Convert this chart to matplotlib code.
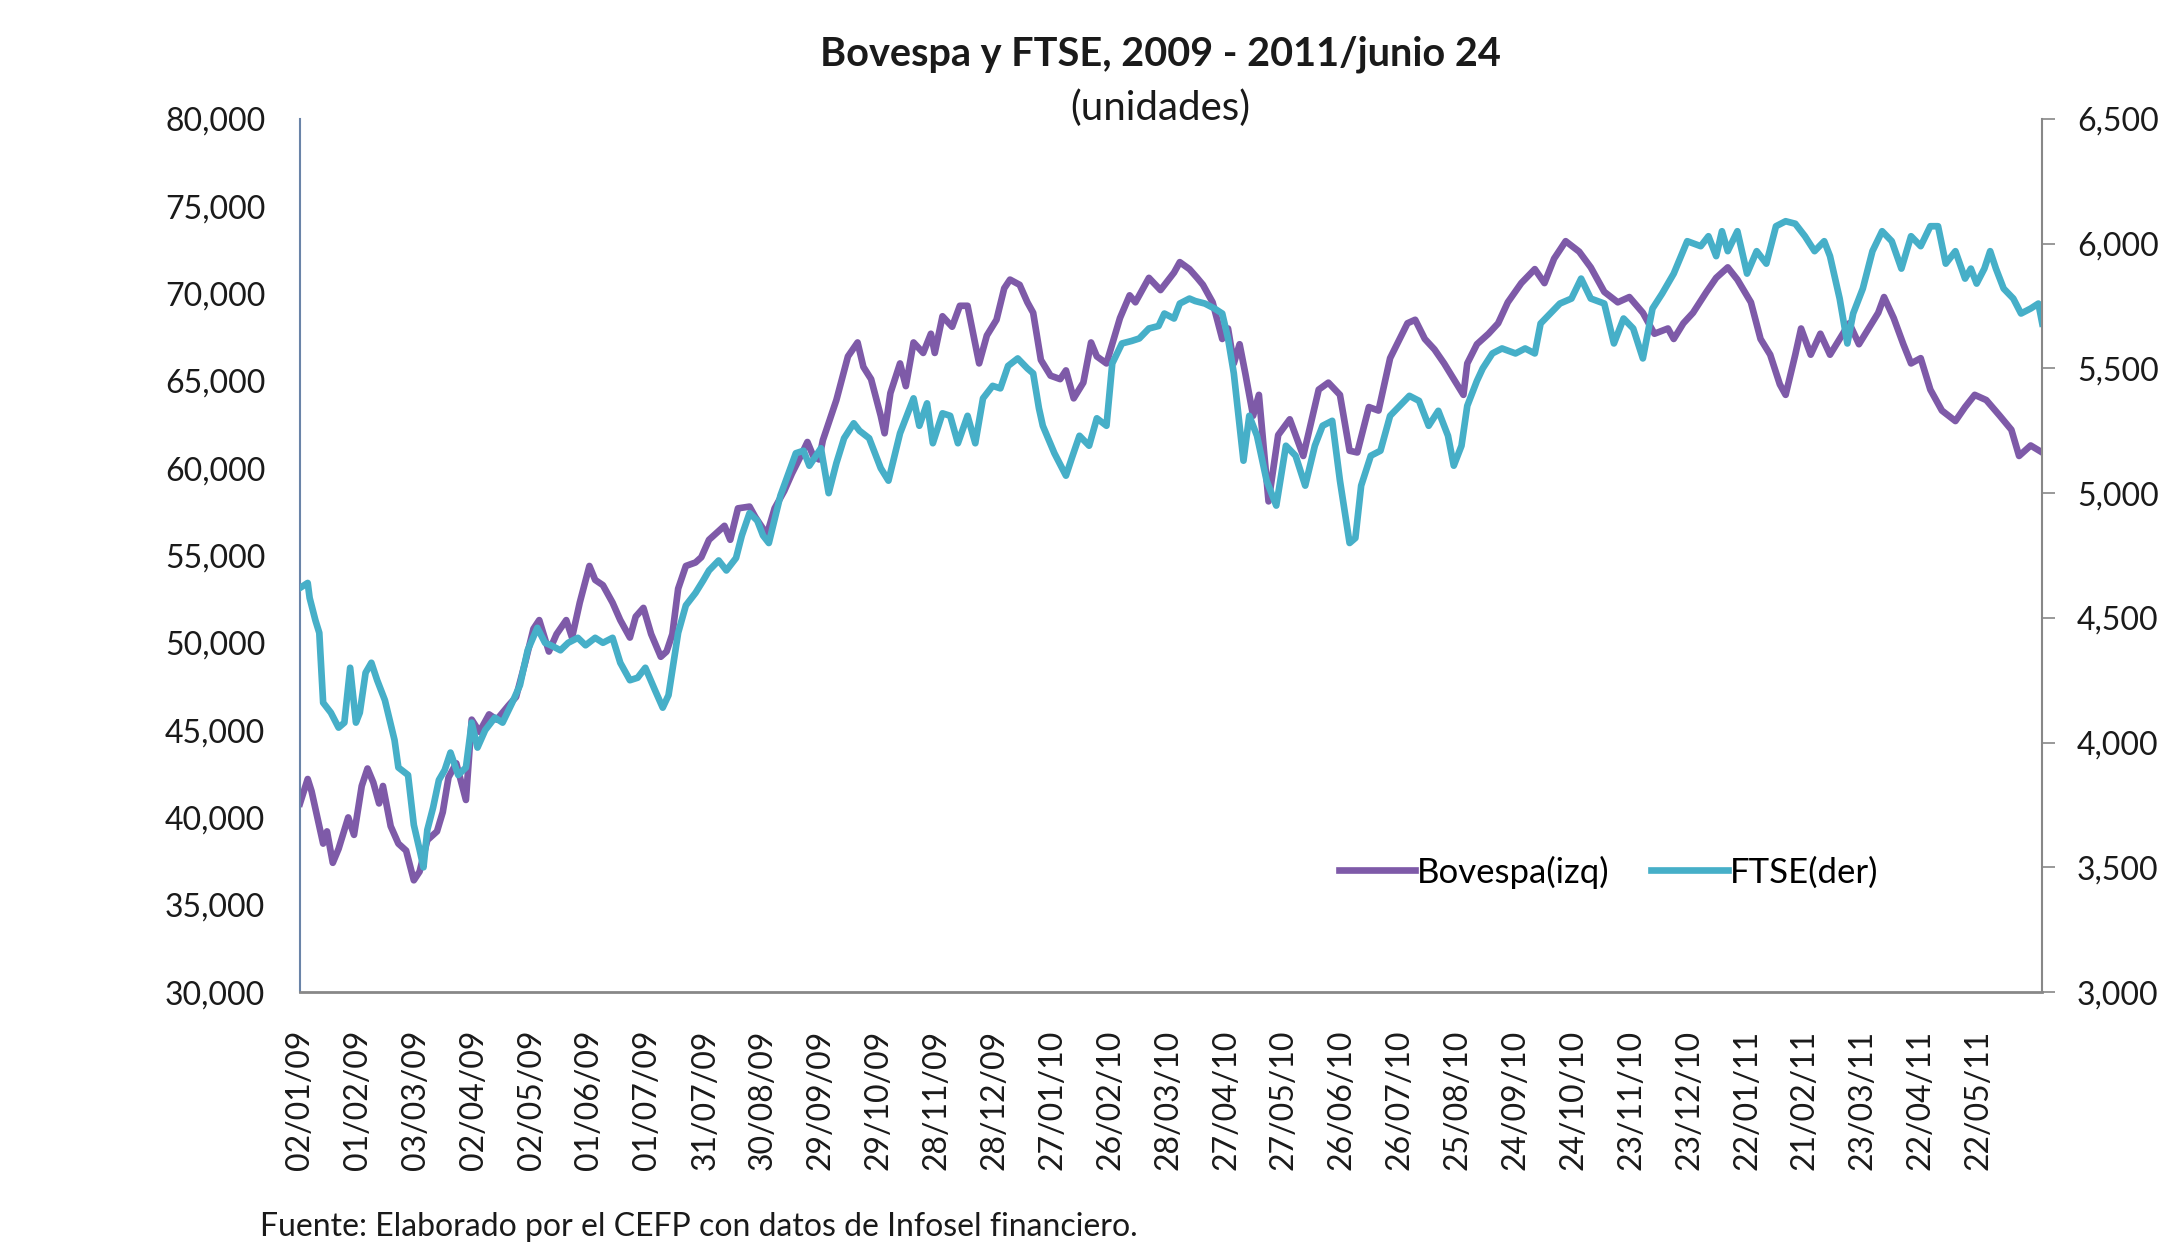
import numpy as np
import pandas as pd
import matplotlib
matplotlib.use('Agg')
import matplotlib.pyplot as plt
from matplotlib.ticker import FuncFormatter

plt.rcParams['font.family'] = ['Lato', 'DejaVu Sans']

start = pd.Timestamp('2009-01-02')
end = pd.Timestamp('2011-06-24')

tick_labels = ['02/01/09', '01/02/09', '03/03/09', '02/04/09', '02/05/09', '01/06/09',
               '01/07/09', '31/07/09', '30/08/09', '29/09/09', '29/10/09', '28/11/09',
               '28/12/09', '27/01/10', '26/02/10', '28/03/10', '27/04/10', '27/05/10',
               '26/06/10', '26/07/10', '25/08/10', '24/09/10', '24/10/10', '23/11/10',
               '23/12/10', '22/01/11', '21/02/11', '23/03/11', '22/04/11', '22/05/11']

# dias naturales desde el 02/01/2009
bov_day = [0, 4, 6, 10, 12, 14, 17, 20, 25, 28,
           32, 35, 38, 41, 43, 47, 51, 55, 59, 62,
           66, 71, 74, 77, 81, 86, 89, 93, 98, 102,
           108, 112, 117, 121, 124, 129, 133, 138, 141, 145,
           150, 153, 157, 162, 166, 171, 174, 178, 182, 187,
           190, 193, 196, 200, 205, 208, 212, 217, 220, 223,
           227, 233, 236, 242, 246, 251, 255, 260, 263, 266,
           269, 271, 278, 284, 289, 292, 296, 301, 303, 306,
           311, 314, 318, 323, 327, 329, 333, 338, 342, 346,
           352, 356, 361, 365, 368, 373, 377, 380, 384, 389,
           394, 397, 401, 406, 410, 413, 418, 425, 430, 433,
           440, 446, 453, 456, 461, 465, 468, 473, 478, 481,
           484, 487, 490, 494, 497, 502, 507, 513, 520, 528,
           533, 539, 544, 548, 554, 559, 565, 574, 578, 583,
           588, 593, 598, 603, 605, 610, 616, 621, 626, 633,
           640, 645, 650, 656, 663, 669, 676, 683, 689, 696,
           702, 709, 712, 717, 722, 729, 734, 740, 745, 752,
           757, 762, 767, 770, 775, 778, 783, 788, 793, 798,
           803, 808, 813, 818, 821, 826, 831, 835, 840, 845,
           851, 858, 863, 868, 874, 881, 887, 891, 897, 903]
bov_val = [40800, 42200, 41500, 39500, 38500, 39200, 37400, 38200, 40000, 39000,
           41800, 42800, 42000, 40800, 41800, 39500, 38500, 38100, 36400, 36900,
           38700, 39200, 40300, 42300, 43100, 41000, 45600, 44900, 45900, 45600,
           46400, 46900, 49000, 50800, 51300, 49500, 50500, 51300, 50300, 52300,
           54400, 53600, 53300, 52300, 51300, 50300, 51500, 52000, 50500, 49200,
           49500, 50500, 53100, 54400, 54600, 54900, 55900, 56400, 56700, 55900,
           57700, 57800, 57200, 56200, 57700, 58700, 59700, 60800, 61500, 60700,
           60500, 61600, 63900, 66400, 67200, 65800, 65100, 63000, 62000, 64300,
           66000, 64700, 67200, 66600, 67700, 66600, 68700, 68100, 69300, 69300,
           66000, 67600, 68500, 70300, 70800, 70500, 69500, 68900, 66200, 65300,
           65100, 65600, 64000, 64900, 67200, 66400, 66000, 68600, 69900, 69500,
           70900, 70200, 71200, 71800, 71400, 70900, 70500, 69500, 67400, 68000,
           66000, 67100, 65400, 63000, 64200, 58100, 61900, 62800, 60700, 64500,
           64900, 64200, 61000, 60900, 63500, 63300, 66300, 68300, 68500, 67400,
           66800, 66000, 65100, 64200, 66000, 67100, 67700, 68300, 69500, 70600,
           71400, 70600, 72000, 73000, 72400, 71500, 70100, 69500, 69800, 68900,
           67700, 68000, 67400, 68300, 68900, 70100, 70900, 71500, 70800, 69500,
           67400, 66500, 64800, 64200, 66500, 68000, 66500, 67700, 66500, 67400,
           68300, 67100, 68000, 68900, 69800, 68600, 67100, 66000, 66300, 64500,
           63300, 62700, 63500, 64200, 63900, 63000, 62200, 60700, 61300, 60900]

ftse_day = [0, 4, 5, 8, 10, 12, 16, 20, 23, 26,
            29, 31, 34, 37, 40, 44, 49, 51, 56, 59,
            62, 64, 66, 69, 72, 75, 78, 82, 86, 89,
            92, 96, 101, 105, 110, 114, 118, 123, 127, 130,
            135, 139, 144, 148, 153, 157, 162, 166, 171, 175,
            179, 184, 188, 191, 196, 200, 205, 209, 212, 217,
            221, 226, 229, 233, 237, 240, 243, 249, 257, 261,
            264, 270, 274, 278, 282, 287, 290, 295, 301, 305,
            311, 318, 321, 325, 328, 333, 337, 341, 346, 350,
            354, 359, 363, 367, 372, 377, 380, 383, 385, 391,
            397, 400, 404, 409, 413, 418, 421, 426, 431, 435,
            440, 445, 448, 453, 456, 461, 464, 469, 474, 478,
            481, 484, 489, 492, 496, 501, 506, 511, 516, 521,
            526, 530, 535, 539, 544, 547, 550, 555, 560, 565,
            570, 575, 580, 585, 590, 595, 598, 602, 605, 610,
            613, 618, 623, 630, 635, 640, 643, 648, 653, 659,
            664, 669, 676, 681, 686, 691, 696, 701, 706, 712,
            719, 726, 730, 734, 737, 740, 745, 750, 755, 760,
            765, 770, 775, 780, 785, 790, 793, 798, 802, 805,
            810, 815, 820, 825, 830, 835, 840, 845, 849, 853,
            858, 863, 866, 869, 873, 876, 879, 883, 888, 892,
            897, 901, 903]
ftse_val = [4620, 4640, 4580, 4490, 4440, 4160, 4120, 4060, 4080, 4300,
            4080, 4120, 4280, 4320, 4250, 4170, 4010, 3900, 3870, 3670,
            3570, 3500, 3650, 3740, 3850, 3890, 3960, 3870, 3900, 4080,
            3980, 4050, 4100, 4080, 4160, 4230, 4370, 4460, 4400, 4390,
            4370, 4400, 4420, 4390, 4420, 4400, 4420, 4320, 4250, 4260,
            4300, 4210, 4140, 4190, 4440, 4550, 4600, 4650, 4690, 4730,
            4690, 4740, 4830, 4920, 4890, 4830, 4800, 4990, 5160, 5170,
            5110, 5180, 5000, 5120, 5220, 5280, 5250, 5220, 5100, 5050,
            5240, 5380, 5270, 5360, 5200, 5320, 5310, 5200, 5310, 5200,
            5380, 5430, 5420, 5510, 5540, 5500, 5480, 5340, 5270, 5160,
            5070, 5140, 5230, 5190, 5300, 5270, 5520, 5600, 5610, 5620,
            5660, 5670, 5720, 5700, 5760, 5780, 5770, 5760, 5740, 5720,
            5620, 5480, 5130, 5310, 5230, 5050, 4950, 5190, 5150, 5030,
            5190, 5270, 5290, 5050, 4800, 4820, 5030, 5150, 5170, 5310,
            5350, 5390, 5370, 5270, 5330, 5230, 5110, 5190, 5350, 5450,
            5500, 5560, 5580, 5560, 5580, 5560, 5680, 5720, 5760, 5780,
            5860, 5780, 5760, 5600, 5700, 5660, 5540, 5740, 5800, 5880,
            6010, 5990, 6030, 5950, 6050, 5970, 6050, 5880, 5970, 5920,
            6070, 6090, 6080, 6030, 5970, 6010, 5950, 5780, 5600, 5720,
            5820, 5970, 6050, 6010, 5900, 6030, 5990, 6070, 6070, 5920,
            5970, 5860, 5900, 5840, 5900, 5970, 5900, 5820, 5780, 5720,
            5740, 5760, 5680]

bov_x = start + pd.to_timedelta(bov_day, unit='D')
ftse_x = start + pd.to_timedelta(ftse_day, unit='D')
tick_x = pd.to_datetime(tick_labels, format='%d/%m/%y')

purple = '#7E5AA8'
aqua = '#46AFC8'

fig = plt.figure(figsize=(21.77, 12.43), dpi=100)
ax = fig.add_axes([0.1378, 0.2019, 0.8003, 0.7024])
ax2 = ax.twinx()

l1, = ax.plot(bov_x, bov_val, color=purple, lw=4.8, solid_joinstyle='round', label='Bovespa(izq)')
l2, = ax2.plot(ftse_x, ftse_val, color=aqua, lw=4.8, solid_joinstyle='round', label='FTSE(der)')

ax.set_xlim(start, end)
ax.set_ylim(30000, 80000)
ax.set_yticks(np.arange(30000, 80001, 5000))
ax2.set_ylim(3000, 6500)
ax2.set_yticks(np.arange(3000, 6501, 500))

fmt = FuncFormatter(lambda v, p: f'{v:,.0f}')
ax.yaxis.set_major_formatter(fmt)
ax2.yaxis.set_major_formatter(fmt)

ax.set_xticks(tick_x)
ax.set_xticklabels(tick_labels, rotation=90, fontsize=23, color='#1a1a1a')
ax.tick_params(axis='x', length=0, pad=27)
ax.tick_params(axis='y', length=0, pad=25, labelsize=23, labelcolor='#1a1a1a')
ax2.tick_params(axis='y', length=9, width=1.2, color='#888888', pad=16,
                labelsize=23, labelcolor='#1a1a1a')

for s in ['top', 'right']:
    ax.spines[s].set_visible(False)
for s in ['top', 'left', 'bottom']:
    ax2.spines[s].set_visible(False)
ax.spines['left'].set_color('#6A84A8')
ax.spines['left'].set_linewidth(1.5)
ax.spines['bottom'].set_color('#888888')
ax.spines['bottom'].set_linewidth(2)
ax2.spines['right'].set_color('#888888')
ax2.spines['right'].set_linewidth(1.5)

ax2.legend([l1, l2], ['Bovespa(izq)', 'FTSE(der)'], loc='center',
           bbox_to_anchor=(0.751, 0.1375), ncol=2, frameon=False, fontsize=25,
           handlelength=2.2, handletextpad=0.05, columnspacing=1.2)

fig.text(0.533, 0.956, 'Bovespa y FTSE, 2009 - 2011/junio 24', ha='center', va='center',
         fontsize=28.5, fontweight='bold', color='#1a1a1a')
fig.text(0.533, 0.913, '(unidades)', ha='center', va='center', fontsize=29, color='#1a1a1a')
fig.text(0.1195, 0.013, 'Fuente: Elaborado por el CEFP con datos de Infosel financiero.',
         ha='left', va='center', fontsize=23, color='#1a1a1a')

fig.savefig('out.png', dpi=100)
